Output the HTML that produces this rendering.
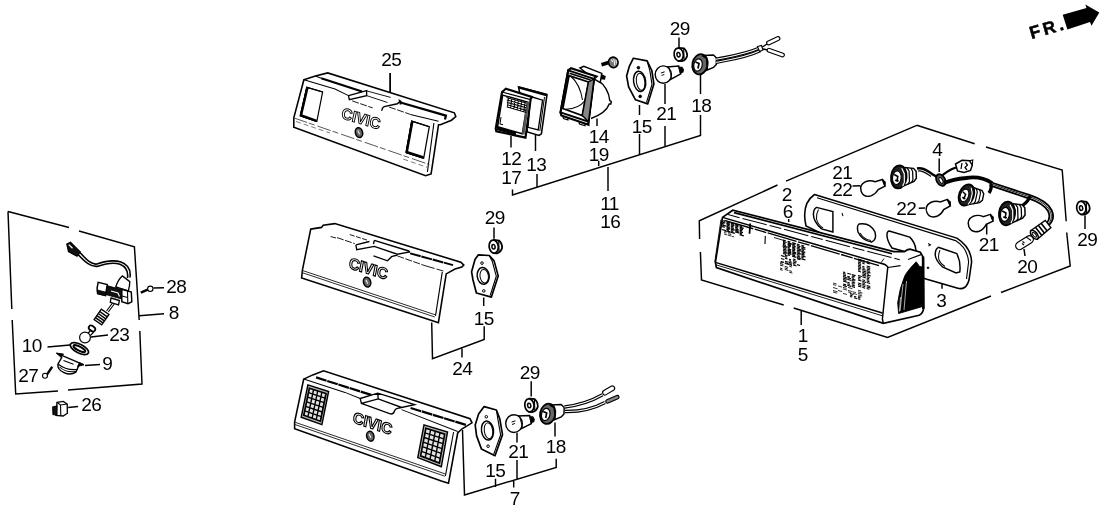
<!DOCTYPE html>
<html><head><meta charset="utf-8"><title>Tail light diagram</title>
<style>html,body{margin:0;padding:0;background:#fff}svg{display:block;will-change:transform}text{font-family:"Liberation Sans",sans-serif;fill:#000}</style></head>
<body><svg width="1108" height="513" viewBox="0 0 1108 513">
<rect width="1108" height="513" fill="#fff"/>
<text x="166.3" y="293.2" font-size="19" letter-spacing="-0.6">28</text>
<text x="168.8" y="319.2" font-size="19" letter-spacing="-0.6">8</text>
<text x="109.3" y="341.2" font-size="19" letter-spacing="-0.6">23</text>
<text x="21.8" y="352.2" font-size="19" letter-spacing="-0.6">10</text>
<text x="102.3" y="370.2" font-size="19" letter-spacing="-0.6">9</text>
<text x="18.3" y="382.2" font-size="19" letter-spacing="-0.6">27</text>
<text x="81.3" y="411.2" font-size="19" letter-spacing="-0.6">26</text>
<text x="381.3" y="65.7" font-size="19" letter-spacing="-0.6">25</text>
<text x="501.3" y="165.2" font-size="19" letter-spacing="-0.6">12</text>
<text x="501.3" y="184.2" font-size="19" letter-spacing="-0.6">17</text>
<text x="526.3" y="171.2" font-size="19" letter-spacing="-0.6">13</text>
<text x="588.8" y="142.7" font-size="19" letter-spacing="-0.6">14</text>
<text x="588.8" y="161.2" font-size="19" letter-spacing="-0.6">19</text>
<text x="600.3" y="209.7" font-size="19" letter-spacing="-0.6">11</text>
<text x="600.3" y="228.2" font-size="19" letter-spacing="-0.6">16</text>
<text x="631.8" y="132.7" font-size="19" letter-spacing="-0.6">15</text>
<text x="656.3" y="120.2" font-size="19" letter-spacing="-0.6">21</text>
<text x="691.3" y="111.7" font-size="19" letter-spacing="-0.6">18</text>
<text x="669.8" y="35.2" font-size="19" letter-spacing="-0.6">29</text>
<text x="484.8" y="224.2" font-size="19" letter-spacing="-0.6">29</text>
<text x="473.8" y="324.7" font-size="19" letter-spacing="-0.6">15</text>
<text x="452.3" y="375.2" font-size="19" letter-spacing="-0.6">24</text>
<text x="519.8" y="378.7" font-size="19" letter-spacing="-0.6">29</text>
<text x="485.3" y="476.7" font-size="19" letter-spacing="-0.6">15</text>
<text x="508.3" y="458.2" font-size="19" letter-spacing="-0.6">21</text>
<text x="545.8" y="453.2" font-size="19" letter-spacing="-0.6">18</text>
<text x="509.8" y="505.2" font-size="19" letter-spacing="-0.6">7</text>
<text x="781.8" y="200.7" font-size="19" letter-spacing="-0.6">2</text>
<text x="782.8" y="218.2" font-size="19" letter-spacing="-0.6">6</text>
<text x="832.3" y="179.2" font-size="19" letter-spacing="-0.6">21</text>
<text x="832.3" y="196.2" font-size="19" letter-spacing="-0.6">22</text>
<text x="896.3" y="214.7" font-size="19" letter-spacing="-0.6">22</text>
<text x="932.3" y="156.2" font-size="19" letter-spacing="-0.6">4</text>
<text x="978.8" y="250.7" font-size="19" letter-spacing="-0.6">21</text>
<text x="1017.3" y="272.7" font-size="19" letter-spacing="-0.6">20</text>
<text x="1077.3" y="245.7" font-size="19" letter-spacing="-0.6">29</text>
<text x="936.3" y="307.2" font-size="19" letter-spacing="-0.6">3</text>
<text x="797.8" y="342.2" font-size="19" letter-spacing="-0.6">1</text>
<text x="797.8" y="360.7" font-size="19" letter-spacing="-0.6">5</text>
<path d="M8,211.5 L69,227.5 M79,231 L134.4,246.8 L139.2,320 M139.8,331 L142,384 L68,390 M58,391 L15.7,394 L12.2,320 M11.8,309 L8,211.5 M153.5,288 L164,287.7 M139.3,315.8 L164,313.7 M91,337 L108,335 M47.5,347 L70,345 M85,365.5 L100,364.5 M68.2,407.4 L78,406.6 M390.2,73 L390.2,92.5 M512.5,189.5 L512.5,195 L700.5,135.5 L700.5,115 M700.5,72.5 L700.5,94 M537,174 L537,188 M639.5,134 L639.5,155 M639.5,105 L639.5,115 M665,126 L665,147 M665,84 L665,104 M598.7,161 L598.7,166 M608,167 L608,191 M511,136 L511,147.5 M535.5,135 L535.5,151 M597,118.5 L597,126 M679,37.5 L679,47.5 M494,227.5 L494,238.7 M483.7,297.5 L483.7,306 M431.7,322.5 L432.5,358.7 L484.2,339.5 L484.2,326.2 M462,348.7 L462,357.5 M531.2,381.2 L531.2,396.5 M462.5,430 L464.5,495 L556.2,467.5 L556.2,458.7 M513.7,481 L513.7,487.5 M495.5,478.7 L495.5,487 M517,432.5 L517,442.5 M517,460 L517,478.5 M555,422.5 L555,436.5 M916.8,125.3 L786,181.2 M777.5,185 L699.3,220.8 L699.6,239 M700.4,252 L701.5,280 L783.7,305 M793.7,308 L887.5,337.5 L991,296 M1001,292.5 L1070.2,266 L1066.7,232.5 M1066.2,221.2 L1062.2,170 L986,147 M974.7,143.7 L916.8,125.3 M939.2,158.5 L939.2,172 M852.5,186 L860,185.7 M918.7,208.2 L925,208 M788.7,219 L788.7,222 M986.7,223.7 L986.7,234.5 M1024,249 L1025,256 M1085,215.6 L1085,229 M942,283.7 L942,288.7 M801.2,311 L801.2,325" stroke="#000" stroke-width="1.46" fill="none" />
<text transform="translate(1031.5,39) rotate(-16)" font-size="17.5" font-weight="bold" x="0" y="0" textLength="34.5" lengthAdjust="spacing" stroke="#000" stroke-width="0.5">FR.</text>
<polygon points="1062.7,14.8 1086.5,8 1085.3,4.4 1099.3,12.5 1091.5,25.7 1090,22 1067.4,29.6" fill="#000"/>
<path d="M66.8,244 L70.5,242.3 L80.3,252 L77,256.3 L68.5,251.5 Z" stroke="#000" stroke-width="1.23" fill="#111" />
<path d="M68.8,244.6 L72.5,248.3" stroke="#fff" stroke-width="1.23" fill="none" />
<path d="M79.5,252 C86,259 91,265 97,264 C104,261.5 113,259.5 121,262 C128,264.5 131,270 130,277.5" stroke="#000" stroke-width="1.57" fill="none" />
<path d="M78,254.5 C85,262 91,267.5 98,266.2 C105,263.8 113,262 120,264.2 C126,266.7 128.5,271 127.5,278" stroke="#000" stroke-width="1.57" fill="none" />
<path d="M115.7,287 Q118,279.5 122.4,275.9 L129.8,281.6 Q129.8,286 128.3,291 Z" stroke="#000" stroke-width="1.34" fill="#fff" />
<path d="M106,285.3 L121.8,289.8 L121.8,299 L106,294.6 Z" stroke="#000" stroke-width="0.90" fill="#111" />
<path d="M111,291 L118,293 L119.5,296.5" stroke="#fff" stroke-width="1.12" fill="none" />
<path d="M98.2,282.3 Q96.3,288 97.6,293.6 L105.5,295.6 L107.2,284.6 Z" stroke="#000" stroke-width="1.46" fill="#fff" />
<path d="M97.2,290 L106.2,292.3 L105.5,295.6 L97.6,293.6 Z" stroke="#000" stroke-width="0.90" fill="#111" />
<path d="M121.8,289.2 L131.3,292 L131.8,301.8 L128,303.6 L121.8,301.6 Z" stroke="#000" stroke-width="1.46" fill="#fff" />
<path d="M127.5,291 L127.8,303 M122,296 L127.5,297.5" stroke="#000" stroke-width="1.12" fill="none" />
<path d="M111,298 L119.4,300.5 L118.5,304.9 L110.3,302.4 Z" stroke="#000" stroke-width="1.34" fill="#fff" />
<path d="M112.5,303 L106.5,311 M114.3,304 L108.3,312" stroke="#000" stroke-width="1.12" fill="none" />
<path d="M108.9,314.5 L101.7,324.8 L94.1,319.5 L101.3,309.2 Z" stroke="#000" stroke-width="1.34" fill="#fff" />
<path d="M107.3,316.8 L99.7,311.5 M105.8,318.8 L98.3,313.5 M104.4,320.9 L96.9,315.6 M103.0,322.9 L95.4,317.6" stroke="#000" stroke-width="1.46" fill="none" />
<ellipse cx="92" cy="328.5" rx="3.6" ry="2.4" transform="rotate(35 92 328.5)" stroke="#000" stroke-width="1.7" fill="none"/>
<circle cx="85" cy="337.5" r="5.4" stroke="#000" stroke-width="1.2" fill="#fff"/>
<path d="M88.3,333 L90.8,330 L93.5,332.2 L90.3,335.6" stroke="#000" stroke-width="1.23" fill="none" />
<ellipse cx="79.4" cy="348.6" rx="10" ry="4.4" transform="rotate(27 79.4 348.6)" stroke="#000" stroke-width="1.7" fill="#fff"/>
<ellipse cx="79.4" cy="348.6" rx="6.6" ry="2.0" transform="rotate(27 79.4 348.6)" stroke="#000" stroke-width="1.9" fill="none"/>
<path d="M56.5,353.2 L83.9,364.8" stroke="#000" stroke-width="1.46" fill="none" />
<path d="M56.5,353.2 L63.5,354 L61,357.3 Z M83.9,364.8 L77.5,366.5 L79.5,362.6 Z" stroke="#000" stroke-width="0.90" fill="#000" />
<path d="M62,357 L58,364 Q57,369.5 64,372.6 Q70.5,375.8 75.8,372.2 L79.5,364" stroke="#000" stroke-width="1.46" fill="none" />
<path d="M58,364 Q66,370.5 77,369.5" stroke="#000" stroke-width="1.12" fill="none" />
<path d="M63.5,360.5 L73.5,364.3" stroke="#000" stroke-width="1.12" fill="none" />
<path d="M59.5,367 Q66,373 76,371.5" stroke="#000" stroke-width="1.01" fill="none" />
<circle cx="45" cy="375.8" r="2.5" stroke="#000" stroke-width="1.1" fill="none"/>
<path d="M46.5,373.8 L51.4,366.6 L52.7,367.4 L47.8,374.8 Z" stroke="#000" stroke-width="0.90" fill="#000" />
<path d="M57,402.3 L63.3,401.4 L67.2,404 L67.4,413.2 L63.2,416 L56,415.5 Z" stroke="#000" stroke-width="1.34" fill="none" />
<path d="M57,402.3 L60.5,405 L60.8,415.6 M60.5,405 L67.2,404" stroke="#000" stroke-width="1.12" fill="none" />
<path d="M52.7,407 L57,406 L57,415 L53,414.5 Z" stroke="#000" stroke-width="1.12" fill="#111" />
<circle cx="150.3" cy="288.8" r="2.7" stroke="#000" stroke-width="1.1" fill="none"/>
<path d="M147.7,289.7 L140.8,292.6" stroke="#000" stroke-width="2.46" fill="none" />
<path d="M303.9,79.7 L315.4,76.1 L327.7,72.9 L454.3,112.8 L455.8,116.5 L451.5,120.2 L440.4,124.8 L438.5,124.8 L431.1,173.9 L425.6,175.7 L293.8,127.3 L293.8,117.9 Z" stroke="#000" stroke-width="1.57" fill="#fff" />
<path d="M321.2,78.3 L362,91.5 M402.2,103 L445.9,115.6 L445,119.5" stroke="#000" stroke-width="2.24" fill="none" />
<path d="M303.9,79.7 L335,89 L348.5,95.6 M410.4,114.4 L438.5,121.2" stroke="#000" stroke-width="1.01" fill="none" />
<path d="M433.9,123 L427.4,172" stroke="#000" stroke-width="1.12" fill="none" />
<path d="M293.8,117.9 L429.5,164.6" stroke="#444" stroke-width="0.90" fill="none" stroke-dasharray="14 2 6 3"/>
<path d="M296,121.5 L330,133 M403.3,159.1 L427.4,167.4" stroke="#555" stroke-width="0.78" fill="none" stroke-dasharray="5 3"/>
<path d="M315.4,76.1 L321.2,78.3" stroke="#000" stroke-width="1.12" fill="none" />
<path d="M348.5,95.6 L366.6,90.7 L366.6,95.6 L349.3,99.7 Z" stroke="#000" stroke-width="1.34" fill="none" />
<path d="M366.6,95.6 L387.5,102.5 M366.6,90.9 L390.7,97.4" stroke="#000" stroke-width="0.90" fill="none" />
<path d="M381.7,110.7 Q382,107.5 384.2,106.6 L397.3,103.8 L400.6,100.9" stroke="#000" stroke-width="1.46" fill="none" />
<path d="M399.3,100.3 L403,103.2 L400.2,104 Z" stroke="#000" stroke-width="1.12" fill="#000" />
<path d="M352.2,100.9 L372.7,107.9 M389.1,107 L410.4,114.4" stroke="#000" stroke-width="0.90" fill="none" stroke-dasharray="7 1.5"/>
<path d="M306.8,87.3 L322.6,92.0 L316.8,121.5 L300.3,115.8 Z" stroke="#000" stroke-width="1.23" fill="#fff" />
<path d="M322.6,92.0 L306.8,87.3 L300.3,115.8 L316.8,121.5" stroke="#000" stroke-width="1.12" fill="none" />
<path d="M307.4,87.8 L300.9,115.5" stroke="#000" stroke-width="2.46" fill="none" />
<path d="M300.6,115.2 L316.5,120.9" stroke="#000" stroke-width="2.46" fill="none" />
<path d="M411.7,121.1 L429.3,126.7 L423.7,158.1 L406.1,152.6 Z" stroke="#000" stroke-width="1.23" fill="#fff" />
<path d="M429.3,126.7 L411.7,121.1 L406.1,152.6 L423.7,158.1" stroke="#000" stroke-width="1.12" fill="none" />
<path d="M412.3,121.6 L406.7,152.3" stroke="#000" stroke-width="2.46" fill="none" />
<path d="M406.4,152.0 L423.4,157.5" stroke="#000" stroke-width="2.46" fill="none" />
<text transform="matrix(0.957,0.290,-0.208,0.978,340.8,118)" font-size="15.5" font-weight="bold" textLength="40" lengthAdjust="spacingAndGlyphs" fill="#fff" stroke="#000" stroke-width="0.95" style="fill:#fff">CIVIC</text>
<ellipse cx="359" cy="132.6" rx="3.6" ry="5.0" transform="rotate(-15 359 132.6)" stroke="#000" stroke-width="1.5" fill="#666"/>
<path d="M357.8,130.4 L359.6,134.1" stroke="#fff" stroke-width="1.01" fill="none" />
<path d="M390.2,73 L390.2,92.5" stroke="#000" stroke-width="1.40" fill="none" />
<path d="M310.7,229.1 L321.5,227.4 L323.2,225.3 L334.8,223.6 L460.8,262.2 L463.8,265.1 L461.8,267.1 L455.0,269.0 L446.2,273.9 L438.4,322.7 L432.5,320.7 L301.6,278.0 L302.5,269.7 Z" stroke="#000" stroke-width="1.57" fill="#fff" />
<path d="M349.8,234.6 L367.8,240.3" stroke="#000" stroke-width="0.90" fill="none" stroke-dasharray="5 1.5"/>
<path d="M410.1,253.4 L453,265.1" stroke="#000" stroke-width="2.02" fill="none" stroke-dasharray="11 0.7"/>
<path d="M330.6,236.5 L336,238 M425,265.7 L443.3,271" stroke="#000" stroke-width="0.90" fill="none" stroke-dasharray="10 2"/>
<path d="M442.3,271.9 L435.5,315.8" stroke="#000" stroke-width="1.12" fill="none" />
<path d="M302.5,270.5 L435.5,314.9 M302.3,272.7 L434.8,317" stroke="#222" stroke-width="0.95" fill="none" />
<path d="M355.9,244.8 L369.4,241.5 M355.9,244.8 L356.7,249.7 L374.3,246.4 L397.3,254.2 L408.8,252.2 M374.3,240.3 L408.8,251 Q410.5,251.8 408.8,252.4 M374.3,240.3 L373.5,244 M373.5,255.9 L387.5,260.8 L391.6,256.7 L397.3,255" stroke="#000" stroke-width="1.34" fill="none" />
<path d="M337,237.6 L354.7,243.6 M397.3,255.9 L425,265.7" stroke="#000" stroke-width="0.90" fill="none" stroke-dasharray="7 1.5"/>
<text transform="matrix(0.958,0.288,-0.187,0.982,348.2,268)" font-size="15.5" font-weight="bold" textLength="40" lengthAdjust="spacingAndGlyphs" fill="#fff" stroke="#000" stroke-width="1.15" style="fill:#fff">CIVIC</text>
<ellipse cx="367.1" cy="282.1" rx="3.6" ry="5.0" transform="rotate(-15 367.1 282.1)" stroke="#000" stroke-width="1.5" fill="#666"/>
<path d="M365.90000000000003,279.90000000000003 L367.70000000000005,283.6" stroke="#fff" stroke-width="1.01" fill="none" />
<path d="M303.7,379.1 L312.8,374.9 L323.6,370.8 L470.0,418.7 L472.0,422.8 L461.8,429.0 L457.7,433.0 L448.5,483.2 L441.3,481.1 L294.6,428.7 L294.6,422.1 Z" stroke="#000" stroke-width="1.57" fill="#fff" />
<path d="M316.1,377.4 L372,395.2 M410.6,408 L465.9,424.9" stroke="#000" stroke-width="2.24" fill="none" stroke-dasharray="11 0.7"/>
<path d="M303.7,379.1 L345,392.4 L360.2,398.5 M401.6,409.6 L457.7,431.5" stroke="#000" stroke-width="1.01" fill="none" />
<path d="M453.6,432 L445.4,476" stroke="#000" stroke-width="1.12" fill="none" />
<path d="M294.6,422.1 L445.4,474 M294.6,424.4 L444.8,476.2" stroke="#222" stroke-width="0.95" fill="none" />
<path d="M360.2,398.5 L377.8,393.2 L414.7,404.7 L401.6,407.5 L378.2,398.9 L361.4,403.4 Z M377.8,393.2 L378.2,398.9 M361.4,403.4 L390.9,414.1 Q394,413.5 394.5,411 Q395,408.8 397.5,408.3 L401.6,407.5" stroke="#000" stroke-width="1.34" fill="none" />
<path d="M307.9,384.9 L328.6,391.5 L321.9,424.6 L301.2,417.2 Z" stroke="#000" stroke-width="1.46" fill="#bbb" />
<path d="M309.4,388.2 L326.0,393.5 L320.4,421.2 L303.8,415.3 Z" stroke="#000" stroke-width="1.68" fill="#e4e4e4" />
<path d="M313.6,389.5 L307.9,416.8 M317.7,390.8 L312.1,418.3 M321.9,392.1 L316.2,419.8 M308.5,392.7 L325.1,398.1 M307.6,397.2 L324.1,402.7 M306.6,401.8 L323.2,407.4 M305.7,406.3 L322.2,412.0 M304.7,410.8 L321.3,416.6" stroke="#000" stroke-width="1.40" fill="none" />
<path d="M424.0,424.9 L447.5,432.0 L441.3,466.8 L417.8,457.6 Z" stroke="#000" stroke-width="1.46" fill="#bbb" />
<path d="M425.9,428.2 L444.7,434.1 L439.4,463.1 L420.6,455.9 Z" stroke="#000" stroke-width="1.68" fill="#e4e4e4" />
<path d="M430.6,429.7 L425.3,457.7 M435.3,431.1 L430.0,459.5 M440.0,432.6 L434.7,461.3 M425.0,432.9 L443.8,438.9 M424.1,437.5 L442.9,443.7 M423.2,442.1 L442.0,448.6 M422.4,446.7 L441.2,453.4 M421.5,451.3 L440.3,458.3" stroke="#000" stroke-width="1.40" fill="none" />
<text transform="matrix(0.950,0.312,-0.181,0.983,352.2,422.2)" font-size="15.5" font-weight="bold" textLength="41" lengthAdjust="spacingAndGlyphs" fill="#fff" stroke="#000" stroke-width="1.15" style="fill:#fff">CIVIC</text>
<ellipse cx="370.3" cy="436.2" rx="3.6" ry="5.0" transform="rotate(-15 370.3 436.2)" stroke="#000" stroke-width="1.5" fill="#666"/>
<path d="M369.1,434.0 L370.90000000000003,437.7" stroke="#fff" stroke-width="1.01" fill="none" />
<path d="M518.5,86.9 L547.0,94.5 L541.4,133.8 L539.0,135.5 L527.4,132.0 Z" stroke="#000" stroke-width="1.57" fill="#fff" />
<path d="M518.8,87.4 L546.5,95.0" stroke="#000" stroke-width="2.46" fill="none" />
<path d="M530.5,96.5 L542.6,100.2 L538.2,130.0 L528.0,127.3 Z" stroke="#000" stroke-width="1.34" fill="none" />
<path d="M544.5,97 L539.8,131" stroke="#000" stroke-width="1.01" fill="none" />
<path d="M502.0,92.0 L505.9,88.8 L531.8,97.0 L530.6,99.6 L525.5,137.6 L496.3,131.3 L495.7,128.7 Z" stroke="#000" stroke-width="2.13" fill="#fff" />
<path d="M502.0,92.0 L530.6,99.6" stroke="#000" stroke-width="1.23" fill="none" />
<path d="M502.7,95.1 L527.4,102.0 L522.3,133.8 L497.6,126.8 Z" stroke="#000" stroke-width="1.46" fill="none" />
<path d="M528.2,101.5 L523.2,134.5" stroke="#555" stroke-width="2.69" fill="none" />
<path d="M506.5,97.5 L526.3,103.0 M506.7,99.9 L526.3,105.4 M506.9,102.3 L526.3,107.8 M507.1,104.7 L526.3,110.2 M507.3,107.1 L526.3,112.6 M508.5,97.6 L507.2,107.5 M511.8,98.5 L510.5,108.4 M515.1,99.4 L513.8,109.3 M518.4,100.4 L517.1,110.3 M521.7,101.3 L520.4,111.2 M525.0,102.2 L523.7,112.1" stroke="#000" stroke-width="1.01" fill="none" />
<path d="M497.5,127.5 L515.5,132.6 L515.2,134.5 L497,129.5 Z" stroke="#000" stroke-width="1.12" fill="#000" />
<path d="M501,117 L500,124 L503,124.8" stroke="#000" stroke-width="1.01" fill="none" />
<path d="M598,80 Q608.5,88 609.8,100.5 L611.3,101.5 L610.8,104 L609.3,104 Q606,113 591,118.5" stroke="#000" stroke-width="1.46" fill="#fff" />
<path d="M580.0,68.0 L583.8,66.4 L601.8,73.4 L600.2,82.7 L594.0,79.0 Z" stroke="#000" stroke-width="1.46" fill="#fff" />
<path d="M601.8,75 L605,76.5 L604.5,79 L601,78.5" stroke="#000" stroke-width="1.34" fill="#000" />
<path d="M568.2,70.3 L571.0,68.2 L596.5,76.5 L594.0,78.8 L588.5,121.7 L588.5,124.8 L561.3,115.5 L560.5,112.4 Z" stroke="#000" stroke-width="2.13" fill="#fff" />
<path d="M568.2,70.3 L594.0,78.8 L588.5,121.7 L560.5,112.4 Z" stroke="#000" stroke-width="1.90" fill="none" />
<path d="M569.0,75.7 L588.5,82.0 L582.3,115.5 L562.8,108.5 Z" stroke="#000" stroke-width="1.79" fill="none" />
<path d="M569.5,73.2 L590.5,80" stroke="#000" stroke-width="1.46" fill="none" />
<path d="M588.5,82.0 L594.0,78.8 L588.5,121.7 L582.3,115.5 Z" stroke="#000" stroke-width="1.34" fill="#888" />
<path d="M566,109.3 Q579,108.5 584.6,101" stroke="#000" stroke-width="1.12" fill="none" />
<path d="M571,76.5 Q580,84 582.5,100" stroke="#000" stroke-width="1.01" fill="none" />
<path d="M563,116.5 L563.5,118.5 L568,120 L568,118.3 M579,122 L579.5,124 L585,125.8 L585,124" stroke="#000" stroke-width="1.12" fill="none" />
<path d="M601.5,64.8 L609.5,62.3" stroke="#000" stroke-width="3.81" fill="none" />
<ellipse cx="613.3" cy="62.4" rx="4.8" ry="5.3" transform="rotate(-15 613.3 62.4)" stroke="#000" stroke-width="1.6" fill="#777"/>
<path d="M613.8,58.8 L614.8,65.5 M611.5,59.5 L612.5,62 M616,59.8 L616.4,63.5" stroke="#fff" stroke-width="1.01" fill="none" />
<path d="M633.4,58.2 L647.1,60.9 L651.8,70.5 L653.9,84.1 L647.7,103.9 L635.5,99.8 L628.6,86.8 L626.6,75.9 L629.3,66.4 Z" stroke="#000" stroke-width="1.68" fill="#fff" stroke-linejoin="round"/>
<path d="M647.1,60.9 L649.9,70.8 L652.0,84.4 L646.5,102.3" stroke="#000" stroke-width="1.12" fill="none" />
<ellipse cx="639.6" cy="81.4" rx="6.0" ry="10.2" transform="rotate(-8 639.6 81.4)" stroke="#000" stroke-width="1.5" fill="none"/>
<ellipse cx="640.6" cy="81.7" rx="4.2" ry="8.6" transform="rotate(-8 640.6 81.7)" stroke="#000" stroke-width="1.0" fill="none"/>
<circle cx="638.4" cy="67.7" r="1.3" stroke="#000" stroke-width="1.0" fill="#000"/>
<circle cx="640.2" cy="96.4" r="1.3" stroke="#000" stroke-width="1.0" fill="#000"/>
<path d="M666.6,67.0 L678.7,66.0 L680.7,74.0 L669.8,80.0 Z" stroke="#000" stroke-width="1.46" fill="#fff" />
<path d="M679.0,67.2 L681.9,67.3 L683.4,69.6 L683.0,71.9 L680.5,73.2 Z" stroke="#000" stroke-width="1.12" fill="#000" />
<ellipse cx="663.3" cy="74.6" rx="8.1" ry="8.700000000000001" transform="rotate(0 663.3 74.6)" stroke="#000" stroke-width="1.4" fill="#fff"/>
<path d="M668.8,67.6 L671.9,78.1" stroke="#000" stroke-width="0.90" fill="none" />
<path d="M660.9,73.1 L664.6,71.7" stroke="#000" stroke-width="1.01" fill="none" />
<path d="M661.5,75.6 L664.3,74.4" stroke="#000" stroke-width="1.01" fill="none" />
<path d="M679.0,47.8 L684.0,48.4 Q687.3,51.4 687.1,55.9 Q686.0,59.9 682.0,61.199999999999996 L678.5,61.0 Z" stroke="#000" stroke-width="1.79" fill="#fff" />
<ellipse cx="678.7" cy="54.5" rx="4.6" ry="6.5" transform="rotate(-8 678.7 54.5)" stroke="#000" stroke-width="1.7" fill="#fff"/>
<ellipse cx="678.5" cy="54.699999999999996" rx="1.6" ry="2.3" transform="rotate(-8 678.5 54.699999999999996)" stroke="#000" stroke-width="1.5" fill="none"/>
<path d="M683.7,48.8 L684.1,59.8" stroke="#000" stroke-width="1.12" fill="none" />
<path d="M703.0,55.5 L713.5,55.0 L716.5,58.0 L716.3,64.5 L713.5,67.5 L704.0,71.5 Z" stroke="#000" stroke-width="1.46" fill="#fff" />
<ellipse cx="700" cy="64.3" rx="7.6" ry="10.2" transform="rotate(12 700 64.3)" stroke="#000" stroke-width="1.8" fill="#666"/>
<ellipse cx="698" cy="65" rx="4.2" ry="6.2" transform="rotate(12 698 65)" stroke="#000" stroke-width="1.2" fill="#fff"/>
<path d="M695.5,62.0 L699.0,63.5 L698.0,68.5" stroke="#000" stroke-width="1.68" fill="none" />
<path d="M702.0,55.5 L706.5,58.0 L707.5,70.0" stroke="#000" stroke-width="1.46" fill="none" />
<path d="M716,59.3 C730,56.3 745,54.5 759.5,48" stroke="#000" stroke-width="3.36" fill="none" />
<path d="M716,59.3 C730,56.3 745,54.5 759.5,48" stroke="#fff" stroke-width="1.01" fill="none" />
<path d="M716,62.3 C731,59.5 746,57.5 760.5,50.5" stroke="#000" stroke-width="3.36" fill="none" />
<path d="M716,62.3 C731,59.5 746,57.5 760.5,50.5" stroke="#fff" stroke-width="1.01" fill="none" />
<path d="M757.5,46.5 L761.5,45.5 L763,50 L759.5,51.5 Z" stroke="#000" stroke-width="1.12" fill="#fff" />
<path d="M762.5,47 L767,44 M763,49 L768,50" stroke="#000" stroke-width="1.46" fill="none" />
<line x1="768.5" y1="43" x2="778" y2="38.5" stroke="#000" stroke-width="4.800000000000001" stroke-linecap="round"/>
<line x1="768.5" y1="43" x2="778" y2="38.5" stroke="#fff" stroke-width="2.6" stroke-linecap="round"/>
<line x1="769" y1="50.2" x2="782.5" y2="55" stroke="#000" stroke-width="4.800000000000001" stroke-linecap="round"/>
<line x1="769" y1="50.2" x2="782.5" y2="55" stroke="#fff" stroke-width="2.6" stroke-linecap="round"/>
<path d="M814.5,194.5 L956.8,238.1 Q971,247 971.6,262 L969,280 Q966,291 957,288 L926,279 L880,262 L806,226 Q801,204 814.5,194.5 Z" stroke="#000" stroke-width="1.57" fill="#fff" />
<path d="M817,197.8 L955.5,240.6 Q967.5,248 968.6,262 L966.5,279" stroke="#000" stroke-width="1.12" fill="none" />
<path d="M816.5,207.4 L832.9,211.5 L832.9,232 L821.6,228.9 Q813.5,222 813.4,214.6 Q813.5,209 816.5,207.4 Z" stroke="#000" stroke-width="1.46" fill="none" />
<path d="M818.5,209.5 Q816,214 816.5,219 Q818,225 823,228" stroke="#000" stroke-width="1.01" fill="none" />
<path d="M859,224 Q870,222 875,232 Q877,240 871.5,242 Q862,240.5 858,232 Q856.5,226 859,224 Z" stroke="#000" stroke-width="1.46" fill="none" />
<path d="M860,233 Q864,239.5 871,240.5" stroke="#000" stroke-width="1.01" fill="none" />
<path d="M889.2,231 L909.7,237.1 Q915,242 915.8,249.4 L917,255 L892,248 Q886.5,240 887,234 Q887.5,231 889.2,231 Z" stroke="#000" stroke-width="1.46" fill="none" />
<path d="M938.3,247.3 L956.8,253.5 Q961,262 959.8,271.9 L956,273 L942.4,266.8 Q936,261 935.3,255.5 Q935,249 938.3,247.3 Z" stroke="#000" stroke-width="1.46" fill="none" />
<path d="M940,250 Q937.8,255 939,260 Q941,264.5 945,266.5" stroke="#000" stroke-width="1.01" fill="none" />
<path d="M842,213 L843,216.2 M928,243.5 L930.5,244.8 L928.5,246" stroke="#000" stroke-width="1.01" fill="none" />
<circle cx="928" cy="267.8" r="0.9" stroke="#000" stroke-width="0.8" fill="#000"/>
<path d="M722.5,217.4 L732.8,210.2 L893.7,251.6 L904.6,251.6 Q907,249.6 910,249.2 L920.3,252.3 L921.8,254.7 L923.4,258 L923.7,308.2 Q923,313.5 919.2,315.3 L883.3,323.4 L716.4,267.6 L715.4,262.4 Z" stroke="#000" stroke-width="1.68" fill="#fff" />
<path d="M734,212.6 L892,253.8" stroke="#000" stroke-width="1.68" fill="none" />
<path d="M722.5,217.4 L880.6,263.3 Q885.5,264 887.8,266.9 L882.4,318.9 L883.3,323.4" stroke="#000" stroke-width="1.46" fill="none" />
<path d="M724.5,220.3 L879,265.6" stroke="#000" stroke-width="1.34" fill="none" stroke-dasharray="30 1.5 12 1.5"/>
<path d="M728,214.6 L899.8,259.8" stroke="#000" stroke-width="1.01" fill="none" stroke-dasharray="12 3 25 3"/>
<path d="M887.8,267.5 L900.5,265.6 M908,259.5 L921,254.7" stroke="#000" stroke-width="1.23" fill="none" />
<path d="M923,256.5 L923.3,309" stroke="#000" stroke-width="2.46" fill="none" />
<path d="M880.6,263.3 L884,258.5" stroke="#000" stroke-width="0.90" fill="none" />
<path d="M715.4,262.4 L882.4,313" stroke="#000" stroke-width="1.46" fill="none" />
<path d="M716,264.8 L882.4,315.8" stroke="#000" stroke-width="0.90" fill="none" />
<path d="M721,219.5 L714.8,262" stroke="#000" stroke-width="0.90" fill="none" />
<path d="M916.2,261.8 L919.5,266.5 L922.8,267 L922.8,306.4 L898.6,313.5 L897.7,302.8 Q899.5,288 904.8,275.9 Q908,270 916.2,261.8 Z" stroke="#000" stroke-width="0.90" fill="#000" />
<path d="M903,284 L900,311 M906.5,281 L904,310 M900.5,297 L899.5,311.5" stroke="#fff" stroke-width="0.67" fill="none" />
<path d="M722.0,220.5 l3.3,1.0 M722.0,222.0 l3.4,1.0 M722.0,223.5 l2.3,0.7 M722.0,225.0 l3.9,1.1 M722.0,226.5 l2.7,0.8 M722.0,229.5 l3.9,1.1 M726.4,221.8 l3.5,1.0 M726.4,223.3 l3.5,1.0 M726.4,224.8 l3.2,0.9 M726.4,226.3 l3.5,1.0 M726.4,227.8 l3.7,1.1 M726.4,229.3 l2.8,0.8 M726.4,230.8 l3.9,1.1 M730.8,223.1 l3.6,1.1 M730.8,224.6 l3.6,1.0 M730.8,226.1 l3.0,0.9 M730.8,227.6 l3.1,0.9 M730.8,229.1 l3.9,1.1 M730.8,230.6 l2.5,0.7 M730.8,232.1 l4.1,1.2 M735.2,224.3 l3.4,1.0 M735.2,225.8 l3.2,0.9 M735.2,227.3 l2.9,0.8 M735.2,228.8 l3.4,1.0 M735.2,230.3 l3.6,1.0 M735.2,231.8 l3.9,1.1 M739.6,225.6 l2.5,0.7 M739.6,227.1 l4.1,1.2 M739.6,228.6 l3.3,1.0 M739.6,230.1 l2.6,0.8 M739.6,231.6 l3.3,1.0 M739.6,233.1 l2.3,0.7 M739.6,234.6 l4.2,1.2" stroke="#000" stroke-width="1.23" fill="none" />
<path d="M724.0,231.0 l3.4,1.0 M724.0,232.5 l2.3,0.7 M724.0,234.0 l3.4,1.0 M728.0,232.2 l3.1,0.9 M728.0,233.7 l3.3,1.0 M728.0,235.2 l3.6,1.0 M732.0,236.3 l2.1,0.6" stroke="#000" stroke-width="0.78" fill="none" />
<path d="M750.2,223.5 L749.5,233.8" stroke="#000" stroke-width="1.79" fill="none" />
<path d="M765.3,236 L765,244" stroke="#000" stroke-width="1.12" fill="none" />
<path d="M774,237.5 L784,240.5 L783,247" stroke="#000" stroke-width="0.90" fill="none" />
<path d="M783.0,240.0 l2.7,0.8 M783.0,241.5 l3.6,1.0 M783.0,243.0 l2.4,0.7 M783.0,244.5 l2.9,0.9 M783.0,246.0 l4.2,1.2 M783.0,247.5 l3.3,0.9 M783.0,249.0 l3.6,1.1 M783.0,250.5 l3.5,1.0 M783.0,252.0 l4.2,1.2 M783.0,253.5 l3.2,0.9 M787.6,241.3 l2.8,0.8 M787.6,242.8 l4.3,1.3 M787.6,244.3 l3.4,1.0 M787.6,245.8 l3.2,0.9 M787.6,247.3 l2.3,0.7 M787.6,248.8 l3.6,1.0 M787.6,250.3 l3.6,1.0 M787.6,251.8 l3.7,1.1 M787.6,253.3 l3.8,1.1 M787.6,254.8 l2.3,0.7 M792.2,242.7 l3.7,1.1 M792.2,244.2 l2.8,0.8 M792.2,245.7 l3.5,1.0 M792.2,247.2 l3.1,0.9 M792.2,248.7 l3.1,0.9 M792.2,250.2 l2.9,0.8 M792.2,251.7 l3.9,1.1 M792.2,253.2 l3.5,1.0 M792.2,254.7 l2.9,0.9 M792.2,256.2 l4.0,1.1 M796.8,244.0 l2.7,0.8 M796.8,245.5 l3.7,1.1 M796.8,247.0 l3.0,0.9 M796.8,248.5 l4.0,1.2 M796.8,250.0 l4.1,1.2 M796.8,251.5 l3.0,0.9 M796.8,253.0 l4.1,1.2 M796.8,254.5 l2.8,0.8 M796.8,256.0 l3.4,1.0 M796.8,257.5 l4.0,1.2 M801.4,245.3 l2.7,0.8 M801.4,246.8 l4.0,1.2 M801.4,248.3 l4.0,1.2 M801.4,249.8 l2.6,0.7 M801.4,251.3 l3.9,1.1 M801.4,252.8 l3.0,0.9 M801.4,254.3 l3.2,0.9 M801.4,255.8 l4.2,1.2 M801.4,257.3 l2.3,0.7 M801.4,258.8 l4.1,1.2" stroke="#000" stroke-width="1.29" fill="none" />
<path d="M781.0,255.5 l3.7,1.1 M781.0,258.5 l3.3,1.0 M781.0,261.5 l2.9,0.9 M785.0,255.2 l2.6,0.8 M785.0,256.7 l2.1,0.6 M785.0,258.2 l2.5,0.7 M785.0,261.2 l3.6,1.1 M785.0,262.7 l3.7,1.1 M789.0,259.3 l2.0,0.6 M789.0,260.8 l2.3,0.7 M789.0,262.3 l3.2,0.9 M789.0,263.8 l2.7,0.8 M793.0,259.0 l2.6,0.8 M793.0,260.5 l3.6,1.0 M793.0,262.0 l3.4,1.0 M793.0,263.5 l2.4,0.7 M793.0,265.0 l3.5,1.0 M797.0,258.6 l3.4,1.0 M797.0,264.6 l3.1,0.9" stroke="#000" stroke-width="1.12" fill="none" />
<path d="M780.0,262.0 l2.9,0.8 M780.0,263.5 l3.4,1.0 M780.0,265.0 l3.3,1.0 M780.0,268.0 l2.4,0.7 M780.0,269.5 l2.6,0.8 M784.7,263.4 l4.4,1.3 M784.7,266.4 l3.4,1.0 M784.7,267.9 l3.0,0.9 M784.7,269.4 l3.7,1.1 M789.3,264.7 l2.7,0.8 M789.3,266.2 l2.6,0.8 M789.3,270.7 l2.5,0.7 M789.3,272.2 l3.1,0.9" stroke="#000" stroke-width="0.90" fill="none" />
<path d="M858.0,259.0 l3.7,1.1 M858.0,260.5 l3.7,1.1 M858.0,262.0 l3.0,0.9 M858.0,263.5 l3.1,0.9 M858.0,265.0 l3.0,0.9 M858.0,266.5 l3.1,0.9 M858.0,268.0 l3.2,0.9 M858.0,269.5 l2.3,0.7 M858.0,271.0 l3.0,0.9 M858.0,275.5 l3.9,1.1 M858.0,277.0 l2.7,0.8 M858.0,278.5 l2.4,0.7 M858.0,280.0 l3.5,1.0 M858.0,283.0 l3.5,1.0 M858.0,284.5 l3.3,0.9 M858.0,286.0 l3.3,1.0 M862.3,260.3 l2.4,0.7 M862.3,261.8 l2.3,0.7 M862.3,263.3 l2.4,0.7 M862.3,266.3 l2.2,0.6 M862.3,267.8 l2.4,0.7 M862.3,269.3 l3.5,1.0 M862.3,270.8 l4.0,1.2 M862.3,272.3 l3.7,1.1 M862.3,273.8 l3.7,1.1 M862.3,275.3 l3.6,1.0 M862.3,276.8 l3.6,1.1 M862.3,279.8 l2.8,0.8 M862.3,281.3 l3.8,1.1 M862.3,282.8 l2.5,0.7 M862.3,284.3 l3.4,1.0 M862.3,285.8 l2.9,0.9 M862.3,287.3 l2.9,0.9 M866.7,261.5 l3.0,0.9 M866.7,263.0 l3.1,0.9 M866.7,266.0 l3.6,1.1 M866.7,267.5 l3.5,1.0 M866.7,269.0 l3.5,1.0 M866.7,270.5 l3.1,0.9 M866.7,272.0 l3.9,1.1 M866.7,273.5 l2.4,0.7 M866.7,275.0 l4.0,1.1 M866.7,276.5 l3.0,0.9 M866.7,278.0 l2.5,0.7 M866.7,279.5 l2.6,0.7 M866.7,281.0 l2.8,0.8 M866.7,282.5 l3.5,1.0 M866.7,285.5 l3.5,1.0 M866.7,287.0 l3.8,1.1 M866.7,288.5 l2.7,0.8" stroke="#000" stroke-width="1.01" fill="none" />
<path d="M843.0,272.0 l2.2,0.6 M843.0,273.5 l2.9,0.8 M843.0,275.0 l2.9,0.8 M843.0,276.5 l3.7,1.1 M843.0,278.0 l4.1,1.2 M843.0,279.5 l3.3,1.0 M843.0,281.0 l3.8,1.1 M843.0,284.0 l3.1,0.9 M843.0,285.5 l3.8,1.1 M847.3,273.3 l3.6,1.0 M847.3,276.3 l2.6,0.8 M847.3,277.8 l3.6,1.0 M847.3,279.3 l4.0,1.2 M847.3,282.3 l2.5,0.7 M847.3,283.8 l2.5,0.7 M847.3,285.3 l3.8,1.1 M851.7,274.5 l3.9,1.1 M851.7,276.0 l3.0,0.9 M851.7,277.5 l2.3,0.7 M851.7,279.0 l3.8,1.1 M851.7,280.5 l2.9,0.8 M851.7,282.0 l3.5,1.0 M851.7,283.5 l2.8,0.8 M851.7,285.0 l3.1,0.9 M851.7,286.5 l3.3,1.0" stroke="#000" stroke-width="1.12" fill="none" />
<path d="M833.0,283.0 l3.7,1.1 M833.0,284.5 l3.1,0.9 M833.0,287.5 l4.5,1.3 M833.0,290.5 l4.6,1.3 M833.0,292.0 l4.2,1.2 M838.0,285.9 l4.0,1.2 M838.0,290.4 l4.2,1.2 M843.0,287.4 l3.6,1.0 M843.0,288.9 l4.1,1.2 M843.0,293.4 l4.0,1.1 M848.0,287.4 l4.5,1.3 M848.0,290.4 l4.6,1.3 M848.0,291.9 l3.2,0.9 M853.0,291.8 l2.9,0.8 M853.0,293.3 l4.1,1.2 M858.0,290.2 l3.1,0.9 M858.0,291.8 l4.5,1.3 M858.0,293.2 l3.6,1.1 M858.0,294.8 l4.2,1.2 M858.0,296.2 l3.2,0.9" stroke="#000" stroke-width="0.78" fill="none" />
<path d="M850.0,293.5 l3.5,1.0 M850.0,295.0 l2.5,0.7 M850.0,296.5 l2.2,0.6 M854.0,296.2 l2.3,0.7 M854.0,297.7 l3.3,1.0 M858.0,297.3 l2.3,0.7 M858.0,298.8 l2.3,0.7" stroke="#000" stroke-width="1.01" fill="none" />
<path d="M882.4,179.5 L875.2,181.7 Q870.2,179.9 865.6,181.7 Q858.8,185.1 861.2,191.5 Q863.7,197.9 871.0,195.9 Q875.7,194.1 878.2,189.5 L885.0,186.2 Z" stroke="#000" stroke-width="1.46" fill="#fff" />
<path d="M882.4,179.5 L885.3,182.3 L885.0,186.2 Z" stroke="#000" stroke-width="1.12" fill="#000" />
<path d="M947.4,199.4 L940.3,201.9 Q935.3,200.4 930.7,202.5 Q924.1,206.2 926.9,212.5 Q929.6,218.7 936.9,216.3 Q941.5,214.3 943.7,209.6 L950.3,206.0 Z" stroke="#000" stroke-width="1.46" fill="#fff" />
<path d="M947.4,199.4 L950.4,202.0 L950.3,206.0 Z" stroke="#000" stroke-width="1.12" fill="#000" />
<path d="M990.4,214.4 L983.2,216.6 Q978.1,214.4 973.4,216.2 Q966.3,219.8 968.8,226.6 Q971.4,233.3 979.2,231.2 Q983.8,229.4 986.2,224.4 L993.0,221.1 Z" stroke="#000" stroke-width="1.46" fill="#fff" />
<path d="M990.4,214.4 L993.3,217.2 L993.0,221.1 Z" stroke="#000" stroke-width="1.12" fill="#000" />
<path d="M917,168.5 C924,167 928,171.5 932,174 C935,176 937,177.5 940,178" stroke="#000" stroke-width="2.46" fill="none" />
<path d="M918,171 C923,170 927,174 931,176.5" stroke="#000" stroke-width="1.12" fill="none" />
<path d="M941,176.5 C946,172 950,169.5 956,167.5" stroke="#000" stroke-width="2.24" fill="none" />
<path d="M955.5,164 L962,160.3 L969.5,160.8 L972.3,165 L970.5,170.5 L964,172.5 L957.5,171 Z" stroke="#000" stroke-width="1.46" fill="#fff" />
<path d="M962,163 L961,169 M965.5,162.5 L967.5,165 L965,167.5 L967,170" stroke="#000" stroke-width="1.23" fill="none" />
<path d="M969.5,160.8 L972.8,160 L972.3,165" stroke="#000" stroke-width="1.12" fill="none" />
<ellipse cx="940.8" cy="180" rx="4.2" ry="6.2" transform="rotate(-30 940.8 180)" stroke="#000" stroke-width="1.8" fill="#555"/>
<ellipse cx="941" cy="180.5" rx="1.6" ry="3.2" transform="rotate(-30 941 180.5)" stroke="#000" stroke-width="1.0" fill="#fff"/>
<path d="M944,183 C950,180.5 958,178.8 966,178 C974,176.6 983,177.2 992,183" stroke="#000" stroke-width="3.81" fill="none" />
<path d="M990,182 L1030,195.2 C1040,198.5 1048,203 1051.5,210 C1054.5,216 1053,221 1049,225" stroke="#000" stroke-width="1.79" fill="none" />
<path d="M990.5,185.6 L1028.5,198.3 C1038,201.5 1045,205.5 1048,211 C1050.5,216 1049.5,220 1046.5,223.5" stroke="#000" stroke-width="1.79" fill="none" />
<path d="M990.5,183.8 L1029.5,196.8 C1039,200 1046.5,204.5 1049.8,210.5 C1052.5,216 1051.5,220.5 1048,224" stroke="#000" stroke-width="0.90" fill="none" />
<path d="M990.5,184 C992,187 991,190 989,193" stroke="#000" stroke-width="3.36" fill="none" />
<path d="M1030,196 C1029,200 1026,203 1022.5,205.5" stroke="#000" stroke-width="3.14" fill="none" />
<g transform="translate(898.8,176.9) rotate(-2) scale(1.0)">
<path d="M3,-9.5 L15,-8 L17.5,-5 L17.5,2 L15,5 L4,9.5 Z" stroke="#000" stroke-width="1.46" fill="#fff" />
<path d="M8.5,-8.8 L10.5,-5.5 L10.5,5 L9,7.7 M12.5,-8.3 L14,-5 L14,3.5 L12.5,6" stroke="#000" stroke-width="1.23" fill="none" />
<ellipse cx="0" cy="0" rx="7.8" ry="11.6" transform="rotate(8 0 0)" stroke="#000" stroke-width="1.8" fill="#222"/>
<ellipse cx="-2" cy="0.8" rx="4.3" ry="6.8" transform="rotate(8 -2 0.8)" stroke="#000" stroke-width="1.1" fill="#fff"/>
<path d="M-4.5,-2.5 L-1,-0.5 L-2,5 M-3.8,3.2 L-0.3,4.2" stroke="#000" stroke-width="1.57" fill="none" />
<path d="M3.2,-8.5 L5.6,-3 L5.4,5.5 L3.5,9.5" stroke="#fff" stroke-width="1.12" fill="none" />
</g>
<g transform="translate(966.5,195) rotate(12) scale(0.95)">
<path d="M3,-9.5 L15,-8 L17.5,-5 L17.5,2 L15,5 L4,9.5 Z" stroke="#000" stroke-width="1.46" fill="#fff" />
<path d="M8.5,-8.8 L10.5,-5.5 L10.5,5 L9,7.7 M12.5,-8.3 L14,-5 L14,3.5 L12.5,6" stroke="#000" stroke-width="1.23" fill="none" />
<ellipse cx="0" cy="0" rx="7.8" ry="11.6" transform="rotate(8 0 0)" stroke="#000" stroke-width="1.8" fill="#222"/>
<ellipse cx="-2" cy="0.8" rx="4.3" ry="6.8" transform="rotate(8 -2 0.8)" stroke="#000" stroke-width="1.1" fill="#fff"/>
<path d="M-4.5,-2.5 L-1,-0.5 L-2,5 M-3.8,3.2 L-0.3,4.2" stroke="#000" stroke-width="1.57" fill="none" />
<path d="M3.2,-8.5 L5.6,-3 L5.4,5.5 L3.5,9.5" stroke="#fff" stroke-width="1.12" fill="none" />
</g>
<g transform="translate(1007,213.5) rotate(-2) scale(1.03)">
<path d="M3,-9.5 L15,-8 L17.5,-5 L17.5,2 L15,5 L4,9.5 Z" stroke="#000" stroke-width="1.46" fill="#fff" />
<path d="M8.5,-8.8 L10.5,-5.5 L10.5,5 L9,7.7 M12.5,-8.3 L14,-5 L14,3.5 L12.5,6" stroke="#000" stroke-width="1.23" fill="none" />
<ellipse cx="0" cy="0" rx="7.8" ry="11.6" transform="rotate(8 0 0)" stroke="#000" stroke-width="1.8" fill="#222"/>
<ellipse cx="-2" cy="0.8" rx="4.3" ry="6.8" transform="rotate(8 -2 0.8)" stroke="#000" stroke-width="1.1" fill="#fff"/>
<path d="M-4.5,-2.5 L-1,-0.5 L-2,5 M-3.8,3.2 L-0.3,4.2" stroke="#000" stroke-width="1.57" fill="none" />
<path d="M3.2,-8.5 L5.6,-3 L5.4,5.5 L3.5,9.5" stroke="#fff" stroke-width="1.12" fill="none" />
</g>
<g transform="translate(1041,229.5) rotate(-38)">
<path d="M-9,-5.5 L9,-4.6 L9,4.6 L-9,5.5 Z" stroke="#000" stroke-width="1.34" fill="#fff" />
<path d="M-3,-5.3 L-3,5.3 M0.5,-5.1 L0.5,5.1 M4,-4.9 L4,4.9" stroke="#000" stroke-width="1.57" fill="none" />
<ellipse cx="-8.5" cy="0" rx="2.8" ry="5.2" transform="rotate(0 -8.5 0)" stroke="#000" stroke-width="1.6" fill="#fff"/>
<ellipse cx="-8.5" cy="0" rx="1.3" ry="3" transform="rotate(0 -8.5 0)" stroke="#000" stroke-width="1.0" fill="none"/>
</g>
<line x1="1019.5" y1="245.8" x2="1029.5" y2="239.5" stroke="#000" stroke-width="8.8" stroke-linecap="round"/>
<line x1="1019.5" y1="245.8" x2="1029.5" y2="239.5" stroke="#fff" stroke-width="6.4" stroke-linecap="round"/>
<path d="M1026,236.8 L1031,240.5 M1022.5,241.5 L1024.5,243 M1022,243.5 L1024,245" stroke="#000" stroke-width="1.01" fill="none" />
<path d="M1081.6,201.20000000000002 L1086.6,201.8 Q1089.8999999999999,204.8 1089.6999999999998,209.3 Q1088.6,213.3 1084.6,214.60000000000002 L1081.1,214.4 Z" stroke="#000" stroke-width="1.79" fill="#fff" />
<ellipse cx="1081.3" cy="207.9" rx="4.6" ry="6.5" transform="rotate(-8 1081.3 207.9)" stroke="#000" stroke-width="1.7" fill="#fff"/>
<ellipse cx="1081.1" cy="208.10000000000002" rx="1.6" ry="2.3" transform="rotate(-8 1081.1 208.10000000000002)" stroke="#000" stroke-width="1.5" fill="none"/>
<path d="M1086.3,202.20000000000002 L1086.6999999999998,213.20000000000002" stroke="#000" stroke-width="1.12" fill="none" />
<path d="M494.0,239.9 L499.0,240.5 Q502.3,243.5 502.1,248.0 Q501.0,252.0 497.0,253.3 L493.5,253.1 Z" stroke="#000" stroke-width="1.79" fill="#fff" />
<ellipse cx="493.7" cy="246.6" rx="4.6" ry="6.5" transform="rotate(-8 493.7 246.6)" stroke="#000" stroke-width="1.7" fill="#fff"/>
<ellipse cx="493.5" cy="246.8" rx="1.6" ry="2.3" transform="rotate(-8 493.5 246.8)" stroke="#000" stroke-width="1.5" fill="none"/>
<path d="M498.7,240.9 L499.1,251.9" stroke="#000" stroke-width="1.12" fill="none" />
<path d="M478.4,254.8 L489.3,255.5 L494.1,260.9 L498.2,275.9 L491.4,297.1 L476.4,293.0 L473.0,280.0 L471.6,271.8 L475.0,259.6 Z" stroke="#000" stroke-width="1.68" fill="#fff" stroke-linejoin="round"/>
<path d="M489.3,255.5 L492.2,261.2 L496.3,276.2 L490.2,295.5" stroke="#000" stroke-width="1.12" fill="none" />
<ellipse cx="483.2" cy="275.9" rx="6.0" ry="8.4" transform="rotate(-8 483.2 275.9)" stroke="#000" stroke-width="1.5" fill="none"/>
<ellipse cx="484.2" cy="276.2" rx="4.2" ry="6.800000000000001" transform="rotate(-8 484.2 276.2)" stroke="#000" stroke-width="1.0" fill="none"/>
<circle cx="482.0" cy="263.09999999999997" r="1.3" stroke="#000" stroke-width="1.0" fill="#fff"/>
<circle cx="483.8" cy="290.9" r="1.3" stroke="#000" stroke-width="1.0" fill="#fff"/>
<path d="M529.7,398.59999999999997 L534.7,399.2 Q538.0,402.2 537.8000000000001,406.7 Q536.7,410.7 532.7,412.0 L529.2,411.8 Z" stroke="#000" stroke-width="1.79" fill="#fff" />
<ellipse cx="529.4000000000001" cy="405.3" rx="4.6" ry="6.5" transform="rotate(-8 529.4000000000001 405.3)" stroke="#000" stroke-width="1.7" fill="#fff"/>
<ellipse cx="529.2" cy="405.5" rx="1.6" ry="2.3" transform="rotate(-8 529.2 405.5)" stroke="#000" stroke-width="1.5" fill="none"/>
<path d="M534.4000000000001,399.59999999999997 L534.8000000000001,410.59999999999997" stroke="#000" stroke-width="1.12" fill="none" />
<path d="M484.1,406.6 L496.4,410.0 L499.8,418.9 L502.5,434.6 L495.0,455.7 L481.4,448.9 L476.6,435.9 L475.2,425.0 L478.6,414.1 Z" stroke="#000" stroke-width="1.68" fill="#fff" stroke-linejoin="round"/>
<path d="M496.4,410.0 L497.9,419.2 L500.6,434.9 L493.8,454.1" stroke="#000" stroke-width="1.12" fill="none" />
<ellipse cx="487.5" cy="430.5" rx="6.0" ry="9.6" transform="rotate(-8 487.5 430.5)" stroke="#000" stroke-width="1.5" fill="none"/>
<ellipse cx="488.5" cy="430.8" rx="4.2" ry="8.0" transform="rotate(-8 488.5 430.8)" stroke="#000" stroke-width="1.0" fill="none"/>
<circle cx="486.3" cy="416.8" r="1.3" stroke="#000" stroke-width="1.0" fill="#fff"/>
<circle cx="488.1" cy="446.2" r="1.3" stroke="#000" stroke-width="1.0" fill="#fff"/>
<path d="M517.5,416.1 L529.7,415.6 L531.4,423.6 L520.3,429.2 Z" stroke="#000" stroke-width="1.46" fill="#fff" />
<path d="M529.9,416.7 L532.8,416.9 L534.2,419.3 L533.8,421.6 L531.2,422.8 Z" stroke="#000" stroke-width="1.12" fill="#000" />
<ellipse cx="514" cy="423.6" rx="8.299999999999999" ry="8.9" transform="rotate(0 514 423.6)" stroke="#000" stroke-width="1.4" fill="#fff"/>
<path d="M519.7,416.8 L522.5,427.4" stroke="#000" stroke-width="0.90" fill="none" />
<path d="M511.6,422.1 L515.4,420.7" stroke="#000" stroke-width="1.01" fill="none" />
<path d="M512.1,424.5 L515.0,423.4" stroke="#000" stroke-width="1.01" fill="none" />
<path d="M550.7,405.0 L561.2,404.5 L564.2,407.5 L564.0,414.0 L561.2,417.0 L551.7,421.0 Z" stroke="#000" stroke-width="1.46" fill="#fff" />
<ellipse cx="547.7" cy="413.8" rx="7.6" ry="10.2" transform="rotate(12 547.7 413.8)" stroke="#000" stroke-width="1.8" fill="#666"/>
<ellipse cx="545.7" cy="414.5" rx="4.2" ry="6.2" transform="rotate(12 545.7 414.5)" stroke="#000" stroke-width="1.2" fill="#fff"/>
<path d="M543.2,411.5 L546.7,413.0 L545.7,418.0" stroke="#000" stroke-width="1.68" fill="none" />
<path d="M549.7,405.0 L554.2,407.5 L555.2,419.5" stroke="#000" stroke-width="1.46" fill="none" />
<path d="M564.5,407 C575,405.8 590,402 602.5,394.8" stroke="#000" stroke-width="3.36" fill="none" />
<path d="M564.5,407 C575,405.8 590,402 602.5,394.8" stroke="#fff" stroke-width="1.01" fill="none" />
<path d="M565,411.5 C578,411.8 592,409.5 605,402.5" stroke="#000" stroke-width="3.36" fill="none" />
<path d="M565,411.5 C578,411.8 592,409.5 605,402.5" stroke="#fff" stroke-width="1.01" fill="none" />
<line x1="605" y1="392.6" x2="612.3" y2="388.3" stroke="#000" stroke-width="5.800000000000001" stroke-linecap="round"/>
<line x1="605" y1="392.6" x2="612.3" y2="388.3" stroke="#fff" stroke-width="3.6" stroke-linecap="round"/>
<line x1="607.5" y1="401.4" x2="617.3" y2="397.2" stroke="#000" stroke-width="4.6" stroke-linecap="round"/>
<line x1="607.5" y1="401.4" x2="617.3" y2="397.2" stroke="#888" stroke-width="2.4" stroke-linecap="round"/>
</svg></body></html>
